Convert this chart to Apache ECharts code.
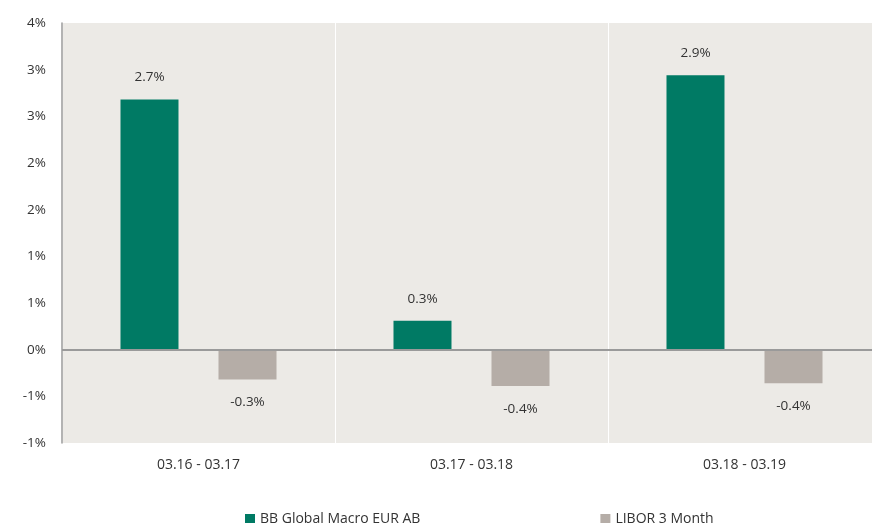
<!DOCTYPE html>
<html>
<head>
<meta charset="utf-8">
<script src="https://cdn.jsdelivr.net/npm/echarts@6/dist/echarts.min.js"></script>
<style>html,body{margin:0;padding:0;background:#fff;}#c{width:872px;height:523px;}</style>
</head>
<body>
<div id="c"></div>
<script>
const categories = ['03.16 - 03.17', '03.17 - 03.18', '03.18 - 03.19'];
const seriesNames = ['BB Global Macro EUR AB', 'LIBOR 3 Month'];
const fundValues = [2.68, 0.31, 2.94];
const liborValues = [-0.32, -0.39, -0.36];

const chart = echarts.init(document.getElementById('c'));
const font = 'Open Sans';
const labelFmt = p => p.value.toFixed(1) + '%';
chart.setOption({
  animation: false,
  textStyle: { fontFamily: font },
  grid: { left: 62, top: 23, width: 819, height: 420, show: true, backgroundColor: '#ECEAE6', borderWidth: 0, outerBoundsMode: 'none', containLabel: false },
  legend: {
    top: 507, left: 240, itemGap: 180, itemWidth: 10, itemHeight: 10, icon: 'rect',
    textStyle: { fontFamily: font, fontSize: 14, color: '#333' },
    data: seriesNames
  },
  xAxis: {
    type: 'category', data: categories,
    axisLine: { show: false }, axisTick: { show: false },
    axisLabel: { margin: 15, fontSize: 14, color: '#333', fontFamily: font },
    splitLine: { show: true, lineStyle: { color: '#ffffff', width: 1 } }
  },
  yAxis: {
    type: 'value', min: -1, max: 3.5, interval: 0.5,
    axisLine: { show: true, lineStyle: { color: '#9a9a9a', width: 1.5 } },
    axisTick: { show: false },
    splitLine: { show: false },
    axisLabel: {
      margin: 16, fontSize: 13.5, color: '#333', fontFamily: font,
      formatter: v => (v < 0 ? '-' : '') + Math.round(Math.abs(v) + 1e-9) + '%'
    }
  },
  series: [
    {
      name: seriesNames[0], type: 'bar', data: fundValues, barWidth: 58, barGap: '69%',
      itemStyle: { color: '#007A64' },
      label: { show: true, position: 'top', distance: 15, formatter: labelFmt, fontSize: 13.5, color: '#333', fontFamily: font },
      markLine: {
        silent: true, symbol: 'none', label: { show: false },
        lineStyle: { color: '#9a9a9a', width: 2, type: 'solid' },
        data: [{ yAxis: 0 }]
      }
    },
    {
      name: seriesNames[1], type: 'bar', data: liborValues, barWidth: 58,
      itemStyle: { color: '#B5ADA7' },
      label: { show: true, position: 'bottom', distance: 16, formatter: labelFmt, fontSize: 13.5, color: '#333', fontFamily: font }
    }
  ]
});
</script>
</body>
</html>
